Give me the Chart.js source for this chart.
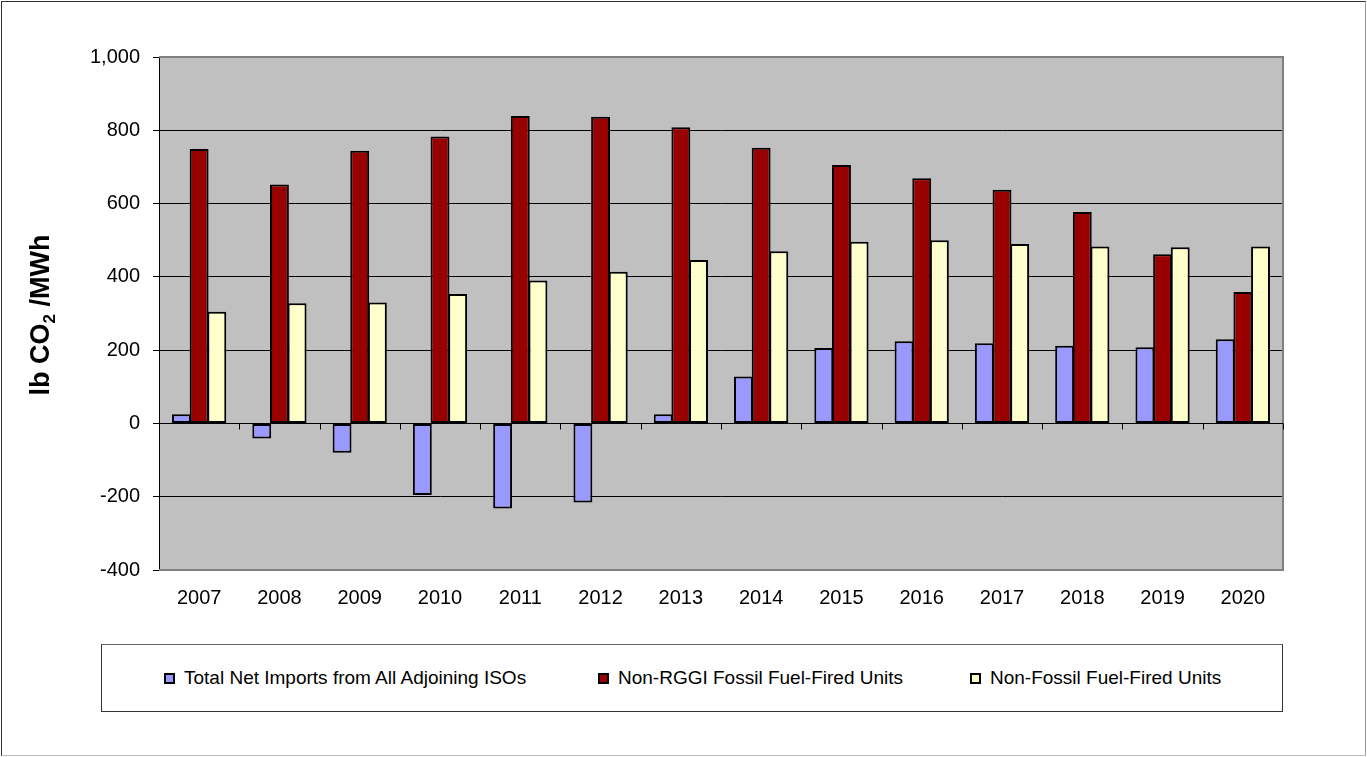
<!DOCTYPE html>
<html>
<head>
<meta charset="utf-8">
<script src="https://cdn.jsdelivr.net/npm/chart.js@4.4.1/dist/chart.umd.min.js"></script>
<style>
  body { margin: 0; background: #fff; font-family: "Liberation Sans", Arial, sans-serif; }
  #wrap { position: relative; width: 1367px; height: 757px; overflow: hidden; }
  #frame { position: absolute; left: 1px; top: 1px; width: 1363px; height: 753px;
           border: 1px solid #333; border-right-color: #999; border-bottom-color: #bbb; pointer-events: none; }
  #legend { position: absolute; left: 101px; top: 644px; width: 1180px; height: 66px;
            border: 1px solid #333; border-top-color: #666; background: #fff; }
  .item { position: absolute; top: 0; height: 66px; display: flex; align-items: center;
          font-size: 19px; color: #000; white-space: nowrap; }
  .swatch { width: 11px; height: 11px; box-sizing: border-box; border: 2px solid #000; margin-right: 9px; }
</style>
</head>
<body>
<div id="wrap">
  <canvas id="chart" width="1367" height="757"></canvas>
  <div id="legend"></div>
  <div id="frame"></div>
</div>
<script>
const years = ["2007", "2008", "2009", "2010", "2011", "2012", "2013",
               "2014", "2015", "2016", "2017", "2018", "2019", "2020"];

const netImports = [25, -41, -80, -195, -232, -216, 25, 128, 206, 224, 219, 212, 208, 230];
const nonRggiFossil = [749, 652, 744, 783, 839, 837, 808, 752, 705, 669, 638, 577, 462, 359];
const nonFossil = [305, 328, 330, 353, 390, 414, 446, 470, 496, 500, 490, 483, 481, 483];

const seriesNames = ["Total Net Imports from All Adjoining ISOs",
                     "Non-RGGI Fossil Fuel-Fired Units",
                     "Non-Fossil Fuel-Fired Units"];
const seriesColors = ["#9999FF", "#990000", "#FFFFCC"];

const yTicks = [-400, -200, 0, 200, 400, 600, 800, 1000];

const FONT = '"Liberation Sans", Arial, sans-serif';

// grey plot background + border, zero axis with category tick marks, rotated y title
const plotDecor = {
  id: "plotDecor",
  beforeDraw(chart) {
    const { ctx, chartArea: a } = chart;
    ctx.save();
    ctx.fillStyle = "#C0C0C0";
    ctx.fillRect(a.left, a.top, a.right - a.left, a.bottom - a.top);
    ctx.restore();
  },
  afterDatasetsDraw(chart) {
    const { ctx, chartArea: a, scales } = chart;
    const x = scales.x, y = scales.y;
    ctx.save();
    ctx.strokeStyle = "#808080";
    ctx.lineWidth = 2;
    ctx.beginPath();
    ctx.moveTo(a.left, a.top); ctx.lineTo(a.right, a.top);
    ctx.lineTo(a.right, a.bottom); ctx.lineTo(a.left, a.bottom);
    ctx.stroke();

    const y0 = Math.round(y.getPixelForValue(0)) + 0.5;
    ctx.strokeStyle = "#000";
    ctx.lineWidth = 1;
    ctx.beginPath();
    ctx.moveTo(a.left, y0); ctx.lineTo(a.right, y0);
    const step = (a.right - a.left) / years.length;
    for (let i = 0; i <= years.length; i++) {
      const px = Math.round(x.getPixelForValue(i) - step / 2) + 0.5;
      ctx.moveTo(px, y0); ctx.lineTo(px, y0 + 6);
    }
    ctx.stroke();
    ctx.restore();
  },
  afterDraw(chart) {
    const ctx = chart.ctx;
    const big = "bold 27px " + FONT, small = "bold 17px " + FONT;
    const p1 = "lb CO", p2 = "2", p3 = " /MWh";
    ctx.save();
    ctx.font = big; const w1 = ctx.measureText(p1).width, w3 = ctx.measureText(p3).width;
    ctx.font = small; const w2 = ctx.measureText(p2).width;
    const total = w1 + w2 + w3;
    ctx.translate(42, 315);
    ctx.rotate(-Math.PI / 2);
    ctx.fillStyle = "#000";
    ctx.textBaseline = "middle";
    ctx.textAlign = "left";
    let cx = -total / 2;
    ctx.font = big; ctx.fillText(p1, cx, 0); cx += w1;
    ctx.font = small; ctx.fillText(p2, cx, 8); cx += w2;
    ctx.font = big; ctx.fillText(p3, cx, 0);
    ctx.restore();
  }
};

new Chart(document.getElementById("chart"), {
  type: "bar",
  data: {
    labels: years,
    datasets: [netImports, nonRggiFossil, nonFossil].map((d, i) => ({
      label: seriesNames[i],
      data: d,
      backgroundColor: seriesColors[i],
      borderColor: "#000",
      borderWidth: 2,
      borderSkipped: false,
      inflateAmount: 0
    }))
  },
  options: {
    responsive: false,
    devicePixelRatio: 1,
    animation: false,
    datasets: { bar: { categoryPercentage: 0.66, barPercentage: 1.07 } },
    layout: { padding: { left: 0, top: 57, right: 84, bottom: 0 } },
    plugins: { legend: { display: false }, tooltip: { enabled: false } },
    scales: {
      x: {
        grid: { display: false, drawTicks: false },
        border: { display: false },
        ticks: { color: "#000", font: { family: FONT, size: 20 }, padding: 16, maxRotation: 0 },
        afterFit(s) { s.height = 757 - 570; }
      },
      y: {
        min: -400,
        max: 1000,
        afterBuildTicks(s) { s.ticks = yTicks.map(v => ({ value: v })); },
        grid: { color: "#000", lineWidth: 1, tickLength: 6, tickColor: "#000" },
        border: { color: "#000", width: 1 },
        ticks: {
          color: "#000",
          font: { family: FONT, size: 20 },
          padding: 13,
          callback: v => v.toLocaleString("en-US")
        },
        afterFit(s) { s.width = 159; }
      }
    }
  },
  plugins: [plotDecor]
});

// legend box below the plot
const legendLeft = [62, 496, 868];
const legend = document.getElementById("legend");
seriesNames.forEach((name, i) => {
  const item = document.createElement("div");
  item.className = "item";
  item.style.left = legendLeft[i] + "px";
  item.innerHTML = `<span class="swatch" style="background:${seriesColors[i]}"></span><span>${name}</span>`;
  legend.appendChild(item);
});
</script>
</body>
</html>
